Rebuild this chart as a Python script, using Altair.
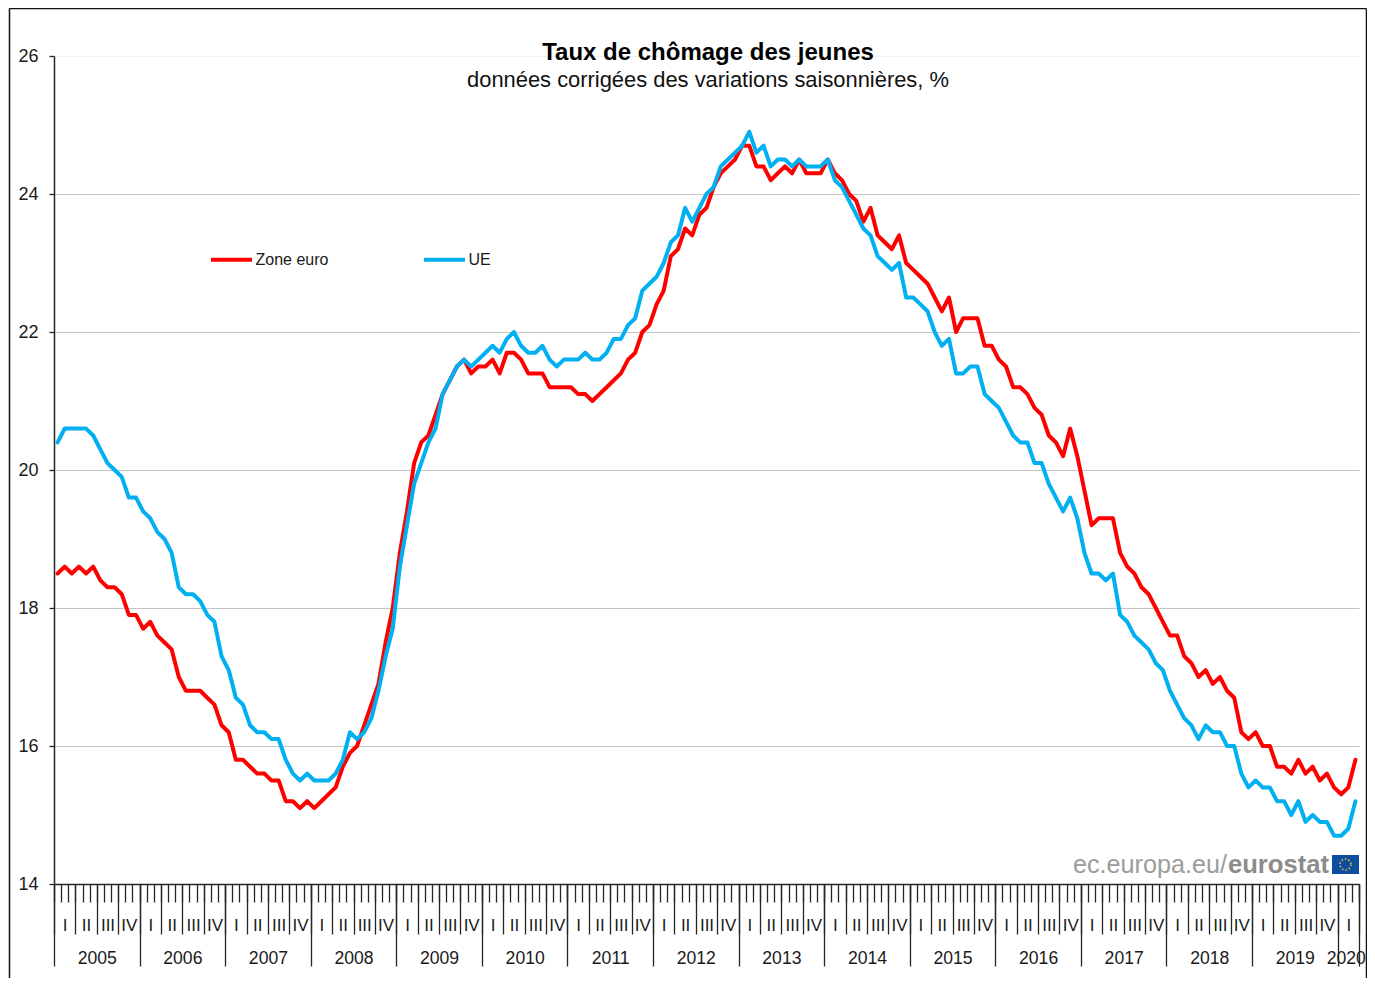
import altair as alt
import pandas as pd

zone_euro = [
    18.5,18.6,18.5,18.6,18.5,18.6,18.4,18.3,18.3,18.2,17.9,17.9,
    17.7,17.8,17.6,17.5,17.4,17.0,16.8,16.8,16.8,16.7,16.6,16.3,
    16.2,15.8,15.8,15.7,15.6,15.6,15.5,15.5,15.2,15.2,15.1,15.2,
    15.1,15.2,15.3,15.4,15.7,15.9,16.0,16.3,16.6,16.9,17.5,18.0,
    18.8,19.4,20.1,20.4,20.5,20.8,21.1,21.3,21.5,21.6,21.4,21.5,
    21.5,21.6,21.4,21.7,21.7,21.6,21.4,21.4,21.4,21.2,21.2,21.2,
    21.2,21.1,21.1,21.0,21.1,21.2,21.3,21.4,21.6,21.7,22.0,22.1,
    22.4,22.6,23.1,23.2,23.5,23.4,23.7,23.8,24.1,24.3,24.4,24.5,
    24.7,24.7,24.4,24.4,24.2,24.3,24.4,24.3,24.5,24.3,24.3,24.3,
    24.5,24.3,24.2,24.0,23.9,23.6,23.8,23.4,23.3,23.2,23.4,23.0,
    22.9,22.8,22.7,22.5,22.3,22.5,22.0,22.2,22.2,22.2,21.8,21.8,
    21.6,21.5,21.2,21.2,21.1,20.9,20.8,20.5,20.4,20.2,20.6,20.2,
    19.7,19.2,19.3,19.3,19.3,18.8,18.6,18.5,18.3,18.2,18.0,17.8,
    17.6,17.6,17.3,17.2,17.0,17.1,16.9,17.0,16.8,16.7,16.2,16.1,
    16.2,16.0,16.0,15.7,15.7,15.6,15.8,15.6,15.7,15.5,15.6,15.4,
    15.3,15.4,15.8,
]
ue = [
    20.4,20.6,20.6,20.6,20.6,20.5,20.3,20.1,20.0,19.9,19.6,19.6,
    19.4,19.3,19.1,19.0,18.8,18.3,18.2,18.2,18.1,17.9,17.8,17.3,
    17.1,16.7,16.6,16.3,16.2,16.2,16.1,16.1,15.8,15.6,15.5,15.6,
    15.5,15.5,15.5,15.6,15.8,16.2,16.1,16.2,16.4,16.8,17.3,17.7,
    18.6,19.2,19.8,20.1,20.4,20.6,21.1,21.3,21.5,21.6,21.5,21.6,
    21.7,21.8,21.7,21.9,22.0,21.8,21.7,21.7,21.8,21.6,21.5,21.6,
    21.6,21.6,21.7,21.6,21.6,21.7,21.9,21.9,22.1,22.2,22.6,22.7,
    22.8,23.0,23.3,23.4,23.8,23.6,23.8,24.0,24.1,24.4,24.5,24.6,
    24.7,24.9,24.6,24.7,24.4,24.5,24.5,24.4,24.5,24.4,24.4,24.4,
    24.5,24.2,24.1,23.9,23.7,23.5,23.4,23.1,23.0,22.9,23.0,22.5,
    22.5,22.4,22.3,22.0,21.8,21.9,21.4,21.4,21.5,21.5,21.1,21.0,
    20.9,20.7,20.5,20.4,20.4,20.1,20.1,19.8,19.6,19.4,19.6,19.3,
    18.8,18.5,18.5,18.4,18.5,17.9,17.8,17.6,17.5,17.4,17.2,17.1,
    16.8,16.6,16.4,16.3,16.1,16.3,16.2,16.2,16.0,16.0,15.6,15.4,
    15.5,15.4,15.4,15.2,15.2,15.0,15.2,14.9,15.0,14.9,14.9,14.7,
    14.7,14.8,15.2,
]
n_months = len(zone_euro)
month_edges = list(range(n_months + 1))
quarter_edges = list(range(0, n_months + 1, 3))
year_edges = list(range(0, n_months, 12)) + [n_months]
quarter_mids = [q + 1.5 for q in range(0, n_months, 3)]
year_mids = [(a + b) / 2 for a, b in zip(year_edges[:-1], year_edges[1:])]
year_mids[-1] -= 0.35  # keeps "2020" inside the page width

FONT = "Liberation Sans"
INK = "#1a1a1a"
AXIS = "#262626"

rows = []
for name, vals in (("Zone euro", zone_euro), ("UE", ue)):
    rows += [{"m": i + 0.5, "serie": name, "taux": v} for i, v in enumerate(vals)]
df = pd.DataFrame(rows)
one = pd.DataFrame({"a": [0]})

xscale = alt.Scale(domain=[0, n_months], nice=False, zero=False)
yscale = alt.Scale(domain=[14, 26], nice=False, zero=False)


def x_axis(**kw):
    base = dict(title=None, orient="bottom", grid=False, domain=False, ticks=True, labels=False,
                tickColor=AXIS, tickWidth=1.3, labelFont=FONT, labelFontSize=17,
                labelColor=INK, labelFlush=False, labelBound=False, labelOverlap=False)
    base.update(kw)
    return alt.Axis(**base)


lines = alt.Chart(df).mark_line(strokeWidth=4, strokeCap="round", strokeJoin="round").encode(
    x=alt.X("m:Q", scale=xscale, axis=x_axis(values=month_edges, tickSize=18, domain=True,
                                             domainColor=AXIS, domainWidth=1.5)),
    y=alt.Y("taux:Q", scale=yscale, axis=alt.Axis(
        title=None, values=[14, 16, 18, 20, 22, 24, 26], format="d",
        grid=True, gridWidth=1.2,
        gridColor={"condition": {"test": "datum.value == 26 || datum.value == 14", "value": "#f0f0f0"},
                   "value": "#c4c4c4"},
        domainColor=AXIS, domainWidth=1.5, tickColor=AXIS, tickWidth=1.3, tickSize=5,
        labelFont=FONT, labelFontSize=18, labelColor=INK, labelPadding=11)),
    color=alt.Color("serie:N", sort=["Zone euro", "UE"],
                    scale=alt.Scale(domain=["Zone euro", "UE"], range=["#ff0000", "#00b0f0"]),
                    legend=alt.Legend(
                        title=None, orient="none", legendX=155, legendY=181, columns=2,
                        columnPadding=87, symbolType="stroke", symbolSize=1681,
                        symbolStrokeWidth=4, labelOffset=1.5, labelFont=FONT, labelFontSize=16,
                        labelColor=INK, padding=0)),
)


def axis_layer(axis):
    return alt.Chart(one).mark_rule(opacity=0).encode(
        x=alt.X("a:Q", scale=xscale, axis=axis))


quarter_ticks = axis_layer(x_axis(values=quarter_edges, tickSize=50))
year_ticks = axis_layer(x_axis(values=year_edges, tickSize=82))
quarter_labels = axis_layer(x_axis(
    values=quarter_mids, ticks=False, labels=True, labelPadding=33,
    labelExpr="['I','II','III','IV'][floor(datum.value / 3) % 4]"))
year_labels = axis_layer(x_axis(
    values=year_mids, ticks=False, labels=True, labelPadding=65, labelFontSize=17.6,
    labelExpr="'' + (2005 + floor(datum.value / 12))"))

mark_a = alt.Chart(one).mark_text(align="right", baseline="alphabetic", font=FONT, fontSize=25.2,
                                  color="#9c9c9c", text="ec.europa.eu/").encode(
    x=alt.value(1173), y=alt.value(817))
mark_b = alt.Chart(one).mark_text(align="left", baseline="alphabetic", font=FONT, fontSize=25.6,
                                  fontWeight="bold", color="#8c8c8c", text="eurostat").encode(
    x=alt.value(1174), y=alt.value(817))
flag = alt.Chart(one).mark_rect(color="#0f4da0").encode(
    x=alt.value(1278), x2=alt.value(1305), y=alt.value(799), y2=alt.value(818))
stars = alt.Chart(one).mark_point(filled=False, color="#d8c92a", strokeWidth=1.6, size=120,
                                  strokeDash=[1.5, 2], opacity=1).encode(
    x=alt.value(1291.5), y=alt.value(808.5))

border = [
    alt.Chart(one).mark_rule(color="#111111", strokeWidth=1.5).encode(
        x=alt.value(-44.5), y=alt.value(-47.5), y2=alt.value(922)),
    alt.Chart(one).mark_rule(color="#111111", strokeWidth=1.5).encode(
        x=alt.value(1312.5), y=alt.value(-47.5), y2=alt.value(922)),
    alt.Chart(one).mark_rule(color="#111111", strokeWidth=1.5).encode(
        x=alt.value(-44.5), x2=alt.value(1312.5), y=alt.value(-47.5)),
]

chart = alt.layer(
    lines, quarter_ticks, year_ticks, quarter_labels, year_labels,
    mark_a, mark_b, flag, stars, *border,
).resolve_axis(x="independent").properties(
    width=1305,
    height=828,
    autosize=alt.AutoSizeParams(type="none"),
    padding={"left": 46, "top": 48, "right": 8, "bottom": 94},
    background="white",
    title=alt.TitleParams(
        text="Taux de chômage des jeunes",
        subtitle="données corrigées des variations saisonnières, %",
        font=FONT, fontSize=24, fontWeight="bold", color="#000000",
        subtitleFont=FONT, subtitleFontSize=21.9, subtitleColor="#111111", subtitlePadding=5,
        anchor="middle", offset=-83, dx=1.5,
    ),
).configure_view(stroke=None)

chart.save("out.html", embed_options={"renderer": "svg", "actions": False})
